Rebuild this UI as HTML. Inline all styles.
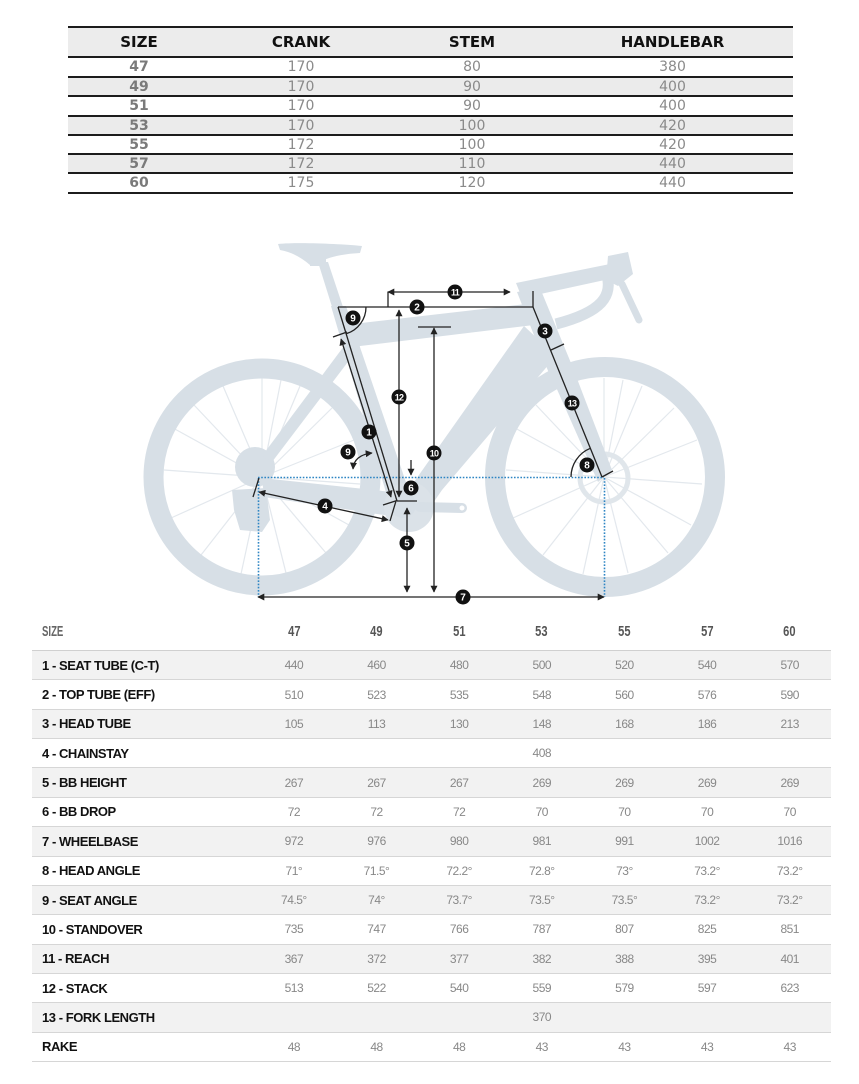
<!DOCTYPE html>
<html><head><meta charset="utf-8">
<style>
*{margin:0;padding:0;box-sizing:border-box}
html,body{width:859px;height:1084px;background:#fff;overflow:hidden}
body{position:relative;font-family:"Liberation Sans",Arial,sans-serif}
.a{position:absolute}
.tl{position:absolute;left:68px;width:725px;height:2px;background:#1c1c1c}
.ts{position:absolute;left:68px;width:725px;background:#ebebeb}
.tr{position:absolute;left:68px;width:725px;height:19px;display:flex;align-items:center;font-family:"DejaVu Sans",sans-serif;font-size:14px;line-height:1}
.tr div{text-align:center}
.c1{width:142px}.c2{width:182px}.c3{width:160px}.c4{width:241px}
.tr .c1{font-weight:bold;color:#7a7a7a}
.tr .c2,.tr .c3,.tr .c4{color:#8a8a8a}
.th{position:absolute;left:68px;top:28px;width:725px;height:28px;display:flex;align-items:center;font-family:"DejaVu Sans",sans-serif;font-size:15px;font-weight:bold;color:#111;background:#ececec}
.th div{text-align:center}
.br{position:absolute;left:32px;width:799px;height:29.36px;display:flex;align-items:center;border-bottom:1px solid #d6d6d6}
.br.g{background:#f2f2f2}
.br .l{width:220.7px;padding-left:10px;font-weight:bold;font-size:13px;letter-spacing:-0.45px;color:#111;white-space:nowrap}
.br .v{width:82.7px;text-align:center;font-size:12px;letter-spacing:-0.5px;color:#888}
.bh{position:absolute;left:32px;top:614px;width:799px;height:37px;display:flex;align-items:center;border-bottom:1px solid #d0d0d0}
.bh .l{width:220.7px;padding-left:10px}
.bh .v{width:82.7px;text-align:center}
.cn{display:inline-block;transform:scaleX(0.74);font-weight:bold;font-size:15px;color:#555}
.bh .l .cn{transform-origin:left center;transform:scaleX(0.64);color:#666;font-size:15px}
</style></head><body>

<!-- TOP TABLE -->
<div class="th"><div class="c1">SIZE</div><div class="c2">CRANK</div><div class="c3">STEM</div><div class="c4">HANDLEBAR</div></div>
<div class="ts" style="top:78px;height:17px"></div>
<div class="ts" style="top:117px;height:17px"></div>
<div class="ts" style="top:155px;height:17px"></div>
<div class="tl" style="top:26px"></div>
<div class="tl" style="top:56px"></div>
<div class="tl" style="top:76px"></div>
<div class="tl" style="top:95px"></div>
<div class="tl" style="top:115px"></div>
<div class="tl" style="top:134px"></div>
<div class="tl" style="top:153px"></div>
<div class="tl" style="top:172px"></div>
<div class="tl" style="top:192px"></div>
<div class="tr" style="top:57.5px"><div class="c1">47</div><div class="c2">170</div><div class="c3">80</div><div class="c4">380</div></div>
<div class="tr" style="top:77px"><div class="c1">49</div><div class="c2">170</div><div class="c3">90</div><div class="c4">400</div></div>
<div class="tr" style="top:96px"><div class="c1">51</div><div class="c2">170</div><div class="c3">90</div><div class="c4">400</div></div>
<div class="tr" style="top:116px"><div class="c1">53</div><div class="c2">170</div><div class="c3">100</div><div class="c4">420</div></div>
<div class="tr" style="top:135px"><div class="c1">55</div><div class="c2">172</div><div class="c3">100</div><div class="c4">420</div></div>
<div class="tr" style="top:154px"><div class="c1">57</div><div class="c2">172</div><div class="c3">110</div><div class="c4">440</div></div>
<div class="tr" style="top:173.5px"><div class="c1">60</div><div class="c2">175</div><div class="c3">120</div><div class="c4">440</div></div>

<!-- BIKE DIAGRAM -->
<svg class="a" style="left:0;top:0" width="859" height="620" viewBox="0 0 859 620">
<defs>
<marker id="ah" viewBox="0 0 10 10" refX="9" refY="5" markerWidth="7" markerHeight="7" markerUnits="userSpaceOnUse" orient="auto-start-reverse"><path d="M0,0 L10,5 L0,10 z" fill="#222"/></marker>
</defs>
<g fill="#d7dfe6" stroke="none">
  <!-- spokes -->
  <g stroke="#e3e8ed" stroke-width="1.2">
    <line x1="262" y1="477" x2="262" y2="378"/><line x1="262" y1="477" x2="300" y2="386"/><line x1="262" y1="477" x2="332" y2="408"/><line x1="262" y1="477" x2="354" y2="440"/><line x1="262" y1="477" x2="360" y2="484"/><line x1="262" y1="477" x2="349" y2="525"/><line x1="262" y1="477" x2="326" y2="553"/><line x1="262" y1="477" x2="286" y2="573"/><line x1="262" y1="477" x2="241" y2="574"/><line x1="262" y1="477" x2="201" y2="555"/><line x1="262" y1="477" x2="171" y2="518"/><line x1="262" y1="477" x2="164" y2="470"/><line x1="262" y1="477" x2="173" y2="428"/><line x1="262" y1="477" x2="194" y2="405"/><line x1="262" y1="477" x2="223" y2="386"/><line x1="262" y1="477" x2="281" y2="380"/>
    <line x1="604" y1="477" x2="604" y2="378"/><line x1="604" y1="477" x2="642" y2="386"/><line x1="604" y1="477" x2="674" y2="408"/><line x1="604" y1="477" x2="697" y2="440"/><line x1="604" y1="477" x2="702" y2="484"/><line x1="604" y1="477" x2="691" y2="525"/><line x1="604" y1="477" x2="668" y2="553"/><line x1="604" y1="477" x2="628" y2="573"/><line x1="604" y1="477" x2="583" y2="574"/><line x1="604" y1="477" x2="543" y2="555"/><line x1="604" y1="477" x2="513" y2="518"/><line x1="604" y1="477" x2="506" y2="470"/><line x1="604" y1="477" x2="515" y2="428"/><line x1="604" y1="477" x2="536" y2="405"/><line x1="604" y1="477" x2="565" y2="386"/><line x1="604" y1="477" x2="623" y2="380"/>
  </g>
  <!-- tires -->
  <circle cx="262" cy="477" r="108.5" fill="none" stroke="#d7dfe6" stroke-width="20"/>
  <circle cx="605" cy="477" r="110" fill="none" stroke="#d7dfe6" stroke-width="20"/>
  <!-- disc -->
  <circle cx="604" cy="478" r="24" fill="none" stroke="#e0e6eb" stroke-width="5"/>
  <!-- cassette & derailleur -->
  <circle cx="255" cy="467" r="20" fill="#d7dfe6"/>
  <path d="M232 490 L266 488 L270 520 L262 532 L240 530 L234 510 Z"/>
  <!-- chainstay -->
  <path d="M262 478 L392 492 L404 518 L264 497 Z"/>
  <!-- seat stay -->
  <path d="M350 338 L360 346 L272 462 L262 456 Z"/>
  <!-- down tube -->
  <path d="M524 326 L556 356 L442 490 L420 522 L396 498 L414 482 Z"/>
  <!-- top tube -->
  <path d="M344 325 L526 304 L534 325 L352 347 Z"/>
  <!-- seat tube -->
  <path d="M331 306 L346 306 L412 500 L390 506 Z"/>
  <!-- head tube -->
  <path d="M517 292 L540 288 L578 380 L554 386 Z"/>
  <!-- fork -->
  <path d="M552 378 L576 376 L612 470 L598 482 Z"/>
  <!-- BB + chainring + crank -->
  <circle cx="409" cy="507" r="25" fill="#dbe2e8"/>
  <circle cx="403" cy="505" r="13"/>
  <line x1="420" y1="507" x2="462" y2="508" stroke="#d7dfe6" stroke-width="10" stroke-linecap="round"/>
  <circle cx="462" cy="508" r="2.5" fill="#fff"/>
  <!-- seatpost -->
  <path d="M318 262 L328 262 L344 310 L333 310 Z"/>
  <!-- saddle -->
  <path d="M278 244 C300 242 340 244 362 246 L360 253 C342 254 330 257 322 261 L310 265 C302 258 292 252 280 250 Z"/>
  <rect x="310" y="257" width="16" height="9"/>
  <!-- stem + bar -->
  <path d="M516 283 L610 264 L614 278 L522 298 Z"/>
  <path d="M606 272 C614 296 602 312 556 324" fill="none" stroke="#d7dfe6" stroke-width="11"/>
  <path d="M608 256 L628 252 L633 274 L618 286 L606 280 Z"/>
  <path d="M622 284 L639 320" fill="none" stroke="#d7dfe6" stroke-width="7" stroke-linecap="round"/>
</g>

<!-- dotted blue -->
<g stroke="#2d85c3" stroke-width="1.6" stroke-dasharray="1.6 1.6" fill="none">
  <line x1="258" y1="477.5" x2="604" y2="477.5"/>
  <line x1="258.5" y1="478" x2="258.5" y2="597"/>
  <line x1="604.5" y1="478" x2="604.5" y2="597"/>
</g>

<!-- annotation lines -->
<g stroke="#222" stroke-width="1.3" fill="none">
  <line x1="338" y1="307" x2="533" y2="307"/>
  <line x1="388" y1="291.5" x2="388" y2="307"/>
  <line x1="388" y1="292" x2="510" y2="292" marker-start="url(#ah)" marker-end="url(#ah)"/>
  <line x1="533" y1="291" x2="533" y2="307"/>
  <line x1="533" y1="307" x2="602" y2="477"/>
  <line x1="551" y1="350" x2="564" y2="344"/>
  <line x1="338" y1="307" x2="397" y2="501"/>
  <path d="M366 307 A28 28 0 0 1 346.2 333.8"/>
  <line x1="333" y1="337" x2="347" y2="332"/>
  <line x1="341" y1="339" x2="391" y2="497" marker-start="url(#ah)" marker-end="url(#ah)"/>
  <line x1="399" y1="310" x2="399" y2="497" marker-start="url(#ah)" marker-end="url(#ah)"/>
  <line x1="418" y1="327" x2="451" y2="327"/>
  <line x1="434" y1="328" x2="434" y2="592" marker-start="url(#ah)" marker-end="url(#ah)"/>
  <line x1="397" y1="501" x2="417" y2="501"/>
  <line x1="383" y1="505" x2="397" y2="500.5"/>
  <line x1="396" y1="501" x2="390" y2="521"/>
  <line x1="411" y1="460" x2="411" y2="475" marker-end="url(#ah)"/>
  <line x1="407" y1="508" x2="407" y2="592" marker-start="url(#ah)" marker-end="url(#ah)"/>
  <line x1="259" y1="492" x2="388" y2="520" marker-start="url(#ah)" marker-end="url(#ah)"/>
  <line x1="253" y1="497" x2="259" y2="478"/>
  <line x1="258" y1="597" x2="604" y2="597" marker-start="url(#ah)" marker-end="url(#ah)"/>
  <path d="M353 469 Q354 455 372 453" marker-start="url(#ah)" marker-end="url(#ah)"/>
  <path d="M571 477 A31 31 0 0 1 590.3 448.3"/>
  <line x1="602" y1="477" x2="613" y2="471"/>
</g>

<!-- markers -->
<g font-family="Liberation Sans, Arial, sans-serif" font-weight="bold" text-anchor="middle" fill="#fff">
  <circle cx="417" cy="307" r="7.5" fill="#111"/><text x="417" y="310.6" font-size="10">2</text>
  <circle cx="455" cy="292" r="7.5" fill="#111"/><text x="455" y="295.3" font-size="9" letter-spacing="-0.8">11</text>
  <circle cx="353" cy="318" r="7.5" fill="#111"/><text x="353" y="321.6" font-size="10">9</text>
  <circle cx="545" cy="331" r="7.5" fill="#111"/><text x="545" y="334.6" font-size="10">3</text>
  <circle cx="399" cy="397" r="7.5" fill="#111"/><text x="399" y="400.3" font-size="9" letter-spacing="-0.8">12</text>
  <circle cx="369" cy="432" r="7.5" fill="#111"/><text x="369" y="435.6" font-size="10">1</text>
  <circle cx="572" cy="403" r="7.5" fill="#111"/><text x="572" y="406.3" font-size="9" letter-spacing="-0.8">13</text>
  <circle cx="434" cy="453" r="7.5" fill="#111"/><text x="434" y="456.3" font-size="9" letter-spacing="-0.8">10</text>
  <circle cx="348" cy="452" r="7.5" fill="#111"/><text x="348" y="455.6" font-size="10">9</text>
  <circle cx="587" cy="465" r="7.5" fill="#111"/><text x="587" y="468.6" font-size="10">8</text>
  <circle cx="411" cy="488" r="7.5" fill="#111"/><text x="411" y="491.6" font-size="10">6</text>
  <circle cx="325" cy="506" r="7.5" fill="#111"/><text x="325" y="509.6" font-size="10">4</text>
  <circle cx="407" cy="543" r="7.5" fill="#111"/><text x="407" y="546.6" font-size="10">5</text>
  <circle cx="463" cy="597" r="7.5" fill="#111"/><text x="463" y="600.6" font-size="10">7</text>
</g>
</svg>

<!-- BOTTOM TABLE -->
<div class="bh"><div class="l"><span class="cn">SIZE</span></div><div class="v"><span class="cn">47</span></div><div class="v"><span class="cn">49</span></div><div class="v"><span class="cn">51</span></div><div class="v"><span class="cn">53</span></div><div class="v"><span class="cn">55</span></div><div class="v"><span class="cn">57</span></div><div class="v"><span class="cn">60</span></div></div>

<div class="br g" style="top:651px"><div class="l">1 - SEAT TUBE (C-T)</div><div class="v">440</div><div class="v">460</div><div class="v">480</div><div class="v">500</div><div class="v">520</div><div class="v">540</div><div class="v">570</div></div>
<div class="br" style="top:680.36px"><div class="l">2 - TOP TUBE (EFF)</div><div class="v">510</div><div class="v">523</div><div class="v">535</div><div class="v">548</div><div class="v">560</div><div class="v">576</div><div class="v">590</div></div>
<div class="br g" style="top:709.72px"><div class="l">3 - HEAD TUBE</div><div class="v">105</div><div class="v">113</div><div class="v">130</div><div class="v">148</div><div class="v">168</div><div class="v">186</div><div class="v">213</div></div>
<div class="br" style="top:739.08px"><div class="l">4 - CHAINSTAY</div><div class="v"></div><div class="v"></div><div class="v"></div><div class="v">408</div><div class="v"></div><div class="v"></div><div class="v"></div></div>
<div class="br g" style="top:768.44px"><div class="l">5 - BB HEIGHT</div><div class="v">267</div><div class="v">267</div><div class="v">267</div><div class="v">269</div><div class="v">269</div><div class="v">269</div><div class="v">269</div></div>
<div class="br" style="top:797.8px"><div class="l">6 - BB DROP</div><div class="v">72</div><div class="v">72</div><div class="v">72</div><div class="v">70</div><div class="v">70</div><div class="v">70</div><div class="v">70</div></div>
<div class="br g" style="top:827.16px"><div class="l">7 - WHEELBASE</div><div class="v">972</div><div class="v">976</div><div class="v">980</div><div class="v">981</div><div class="v">991</div><div class="v">1002</div><div class="v">1016</div></div>
<div class="br" style="top:856.52px"><div class="l">8 - HEAD ANGLE</div><div class="v">71°</div><div class="v">71.5°</div><div class="v">72.2°</div><div class="v">72.8°</div><div class="v">73°</div><div class="v">73.2°</div><div class="v">73.2°</div></div>
<div class="br g" style="top:885.88px"><div class="l">9 - SEAT ANGLE</div><div class="v">74.5°</div><div class="v">74°</div><div class="v">73.7°</div><div class="v">73.5°</div><div class="v">73.5°</div><div class="v">73.2°</div><div class="v">73.2°</div></div>
<div class="br" style="top:915.24px"><div class="l">10 - STANDOVER</div><div class="v">735</div><div class="v">747</div><div class="v">766</div><div class="v">787</div><div class="v">807</div><div class="v">825</div><div class="v">851</div></div>
<div class="br g" style="top:944.6px"><div class="l">11 - REACH</div><div class="v">367</div><div class="v">372</div><div class="v">377</div><div class="v">382</div><div class="v">388</div><div class="v">395</div><div class="v">401</div></div>
<div class="br" style="top:973.96px"><div class="l">12 - STACK</div><div class="v">513</div><div class="v">522</div><div class="v">540</div><div class="v">559</div><div class="v">579</div><div class="v">597</div><div class="v">623</div></div>
<div class="br g" style="top:1003.32px"><div class="l">13 - FORK LENGTH</div><div class="v"></div><div class="v"></div><div class="v"></div><div class="v">370</div><div class="v"></div><div class="v"></div><div class="v"></div></div>
<div class="br" style="top:1032.68px"><div class="l">RAKE</div><div class="v">48</div><div class="v">48</div><div class="v">48</div><div class="v">43</div><div class="v">43</div><div class="v">43</div><div class="v">43</div></div>

</body></html>
